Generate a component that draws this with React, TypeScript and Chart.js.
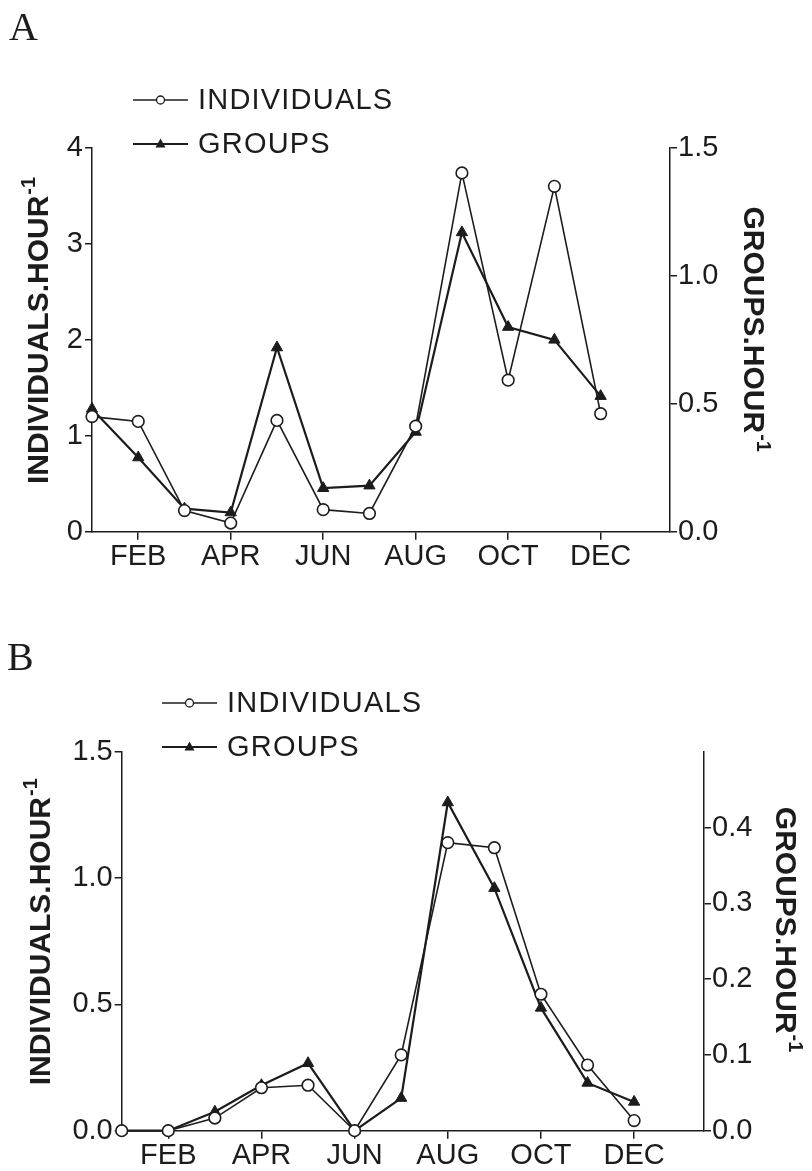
import React, { useEffect, useRef } from 'react';
import { Chart, registerables } from 'chart.js';

Chart.register(...registerables);

// ---------- data ----------
const MONTHS = ['JAN', 'FEB', 'MAR', 'APR', 'MAY', 'JUN', 'JUL', 'AUG', 'SEP', 'OCT', 'NOV', 'DEC'];
const TICK_MONTHS = [1, 3, 5, 7, 9, 11];

const A_INDIVIDUALS = [1.2, 1.15, 0.22, 0.09, 1.16, 0.23, 0.19, 1.1, 3.74, 1.58, 3.6, 1.23];
const A_GROUPS = [0.48, 0.29, 0.09, 0.075, 0.72, 0.17, 0.18, 0.39, 1.17, 0.8, 0.75, 0.53];
const A_LEFT_TICKS = [0, 1, 2, 3, 4];
const A_RIGHT_TICKS = [0, 0.5, 1.0, 1.5];

const B_INDIVIDUALS = [0, 0, 0.05, 0.17, 0.18, 0, 0.3, 1.14, 1.12, 0.54, 0.26, 0.04];
const B_GROUPS = [0, 0, 0.025, 0.06, 0.089, 0, 0.043, 0.433, 0.32, 0.162, 0.063, 0.038];
const B_LEFT_TICKS = [0, 0.5, 1.0, 1.5];
const B_RIGHT_TICKS = [0, 0.1, 0.2, 0.3, 0.4];

const SERIES_NAMES = ['INDIVIDUALS', 'GROUPS'];
const LEFT_TITLE = 'INDIVIDUALS.HOUR';
const RIGHT_TITLE = 'GROUPS.HOUR';
const TITLE_SUP = '-1';

// ---------- style ----------
const INK = '#1c1c1c';
const SANS = '"Liberation Sans", Arial, Helvetica, sans-serif';
const SERIF = '"Liberation Serif", "Times New Roman", serif';
const TICK_FONT = { family: SANS, size: 29 };

type PanelSpec = {
  letter: string;
  height: number;
  individuals: number[];
  groups: number[];
  leftMax: number;
  rightMax: number;
  leftTicks: number[];
  rightTicks: number[];
  leftFmt: (v: number) => string;
  rightFmt: (v: number) => string;
  padTop: number;
  leftW: number;
  rightW: number;
  xH: number;
  letterPos: [number, number];
  legendX: [number, number, number]; // line start, line end, text start
  legendY: [number, number];
  leftTitleX: number;
  rightTitleX: number;
  rightTitleShift: number;
};

// draws a rotated title whose main text is centred on (cx, cy) + shift along the text direction
function drawRotTitle(
  ctx: CanvasRenderingContext2D,
  text: string,
  sup: string,
  cx: number,
  cy: number,
  rot: number,
  along: number
) {
  const font = `bold 30px ${SANS}`;
  const supFont = `bold 20px ${SANS}`;
  ctx.save();
  ctx.translate(cx, cy);
  ctx.rotate(rot);
  ctx.fillStyle = INK;
  ctx.textAlign = 'left';
  ctx.textBaseline = 'alphabetic';
  ctx.font = font;
  const w1 = ctx.measureText(text).width;
  const base = 10.7;
  const start = -w1 / 2 + along;
  ctx.fillText(text, start, base);
  ctx.font = supFont;
  ctx.fillText(sup, start + w1 + 1, base - 13);
  ctx.restore();
}

function makeDecorPlugin(spec: PanelSpec) {
  return {
    id: 'decor' + spec.letter,
    afterDraw(chart: any) {
      const ctx: CanvasRenderingContext2D = chart.ctx;
      const area = chart.chartArea;
      ctx.save();
      // panel letter
      ctx.fillStyle = INK;
      ctx.font = `40px ${SERIF}`;
      ctx.textAlign = 'left';
      ctx.textBaseline = 'alphabetic';
      ctx.fillText(spec.letter, spec.letterPos[0], spec.letterPos[1]);

      // legend
      const [x0, x1, tx] = spec.legendX;
      chart.data.datasets.forEach((ds: any, i: number) => {
        const y = spec.legendY[i];
        ctx.strokeStyle = INK;
        ctx.lineWidth = ds.borderWidth;
        ctx.beginPath();
        ctx.moveTo(x0, y);
        ctx.lineTo(x1, y);
        ctx.stroke();
        const mx = (x0 + x1) / 2;
        ctx.lineWidth = 1.3;
        if (ds.pointStyle === 'circle') {
          ctx.fillStyle = '#ffffff';
          ctx.beginPath();
          ctx.arc(mx, y, 4, 0, Math.PI * 2);
          ctx.fill();
          ctx.stroke();
        } else {
          ctx.fillStyle = INK;
          ctx.beginPath();
          ctx.moveTo(mx, y - 5.5);
          ctx.lineTo(mx + 5, y + 3.5);
          ctx.lineTo(mx - 5, y + 3.5);
          ctx.closePath();
          ctx.fill();
        }
        ctx.fillStyle = INK;
        ctx.font = `29px ${SANS}`;
        (ctx as any).letterSpacing = '1.2px';
        ctx.textBaseline = 'middle';
        ctx.fillText(ds.label, tx, y + 1);
        (ctx as any).letterSpacing = '0px';
      });

      // axis titles
      const cy = (area.top + area.bottom) / 2;
      drawRotTitle(ctx, LEFT_TITLE, TITLE_SUP, spec.leftTitleX, cy, -Math.PI / 2, 0);
      drawRotTitle(ctx, RIGHT_TITLE, TITLE_SUP, spec.rightTitleX, cy, Math.PI / 2, -spec.rightTitleShift);
      ctx.restore();
    },
  };
}

function axisCommon() {
  return {
    grid: {
      display: true,
      drawOnChartArea: false,
      drawTicks: true,
      tickLength: 7,
      color: INK,
      lineWidth: 1.5,
    },
    border: { display: true, color: INK, width: 1.5 },
  };
}

function makeConfig(spec: PanelSpec): any {
  const toPts = (arr: number[]) => arr.map((v, i) => ({ x: i, y: v }));
  return {
    type: 'line',
    data: {
      datasets: [
        {
          label: SERIES_NAMES[0],
          data: toPts(spec.individuals),
          yAxisID: 'y',
          borderColor: INK,
          borderWidth: 1.6,
          pointStyle: 'circle',
          pointRadius: 5.8,
          pointBackgroundColor: '#ffffff',
          pointBorderColor: INK,
          pointBorderWidth: 1.6,
          tension: 0,
          clip: false,
        },
        {
          label: SERIES_NAMES[1],
          data: toPts(spec.groups),
          yAxisID: 'y1',
          borderColor: INK,
          borderWidth: 2.2,
          pointStyle: 'triangle',
          pointRadius: 6.5,
          pointBackgroundColor: INK,
          pointBorderColor: INK,
          pointBorderWidth: 1,
          tension: 0,
          clip: false,
        },
      ],
    },
    options: {
      responsive: false,
      animation: false,
      devicePixelRatio: 1,
      layout: { padding: { top: spec.padTop, left: 0, right: 0, bottom: 0 } },
      plugins: { legend: { display: false }, tooltip: { enabled: false } },
      scales: {
        x: {
          type: 'linear',
          position: 'bottom',
          min: 0,
          max: 12.5,
          afterBuildTicks: (s: any) => {
            s.ticks = TICK_MONTHS.map((v) => ({ value: v }));
          },
          afterFit: (s: any) => {
            s.height = spec.xH;
          },
          ticks: {
            autoSkip: false,
            maxRotation: 0,
            padding: 0,
            font: TICK_FONT,
            color: INK,
            callback: (v: number) => MONTHS[Math.round(v)],
          },
          ...axisCommon(),
          grid: { ...axisCommon().grid, tickLength: 8 },
        },
        y: {
          type: 'linear',
          position: 'left',
          min: 0,
          max: spec.leftMax,
          afterBuildTicks: (s: any) => {
            s.ticks = spec.leftTicks.map((v) => ({ value: v }));
          },
          afterFit: (s: any) => {
            s.width = spec.leftW;
          },
          ticks: {
            padding: 2,
            font: TICK_FONT,
            color: INK,
            callback: (v: number) => spec.leftFmt(v),
          },
          ...axisCommon(),
        },
        y1: {
          type: 'linear',
          position: 'right',
          min: 0,
          max: spec.rightMax,
          afterBuildTicks: (s: any) => {
            s.ticks = spec.rightTicks.map((v) => ({ value: v }));
          },
          afterFit: (s: any) => {
            s.width = spec.rightW;
          },
          ticks: {
            padding: 1,
            font: TICK_FONT,
            color: INK,
            callback: (v: number) => spec.rightFmt(v),
          },
          ...axisCommon(),
        },
      },
    },
    plugins: [makeDecorPlugin(spec)],
  };
}

const fmt0 = (v: number) => String(Math.round(v));
const fmt1 = (v: number) => Number(v).toFixed(1);

const PANEL_A: PanelSpec = {
  letter: 'A',
  height: 590,
  individuals: A_INDIVIDUALS,
  groups: A_GROUPS,
  leftMax: 4,
  rightMax: 1.5,
  leftTicks: A_LEFT_TICKS,
  rightTicks: A_RIGHT_TICKS,
  leftFmt: fmt0,
  rightFmt: fmt1,
  padTop: 148,
  leftW: 92,
  rightW: 142,
  xH: 58.3,
  letterPos: [9, 40],
  legendX: [133, 188, 198],
  legendY: [100, 144],
  leftTitleX: 37,
  rightTitleX: 755,
  rightTitleShift: 20,
};

const PANEL_B: PanelSpec = {
  letter: 'B',
  height: 581,
  individuals: B_INDIVIDUALS,
  groups: B_GROUPS,
  leftMax: 1.5,
  rightMax: 0.5,
  leftTicks: B_LEFT_TICKS,
  rightTicks: B_RIGHT_TICKS,
  leftFmt: fmt1,
  rightFmt: fmt1,
  padTop: 161.7,
  leftW: 121.7,
  rightW: 108,
  xH: 40.3,
  letterPos: [7, 80],
  legendX: [162, 217, 227],
  legendY: [113, 157],
  leftTitleX: 39,
  rightTitleX: 787,
  rightTitleShift: 21,
};

function Panel({ spec, top }: { spec: PanelSpec; top: number }) {
  const ref = useRef<HTMLCanvasElement | null>(null);
  useEffect(() => {
    if (!ref.current) return;
    const chart = new Chart(ref.current, makeConfig(spec));
    return () => chart.destroy();
  }, [spec]);
  return (
    <canvas
      ref={ref}
      width={812}
      height={spec.height}
      style={{ position: 'absolute', left: 0, top, width: 812, height: spec.height, display: 'block' }}
    />
  );
}

export default function App() {
  return (
    <div style={{ position: 'absolute', left: 0, top: 0, width: 812, height: 1171, background: '#ffffff' }}>
      <Panel spec={PANEL_A} top={0} />
      <Panel spec={PANEL_B} top={590} />
    </div>
  );
}
